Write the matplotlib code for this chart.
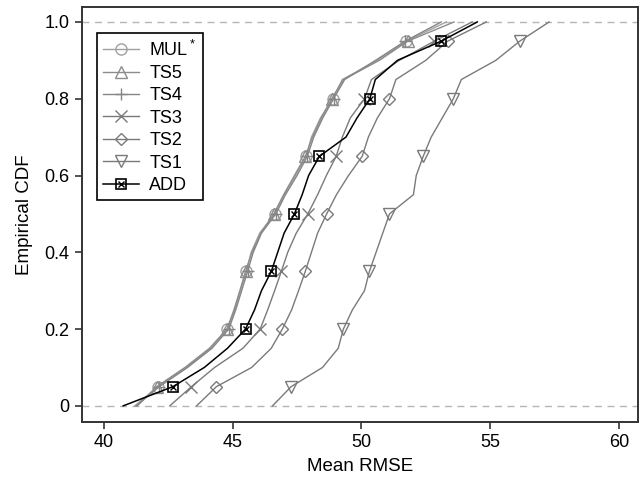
import matplotlib
matplotlib.use('Agg')
import matplotlib.pyplot as plt

plt.rcParams['font.family'] = ['Liberation Sans', 'DejaVu Sans']
plt.rcParams['mathtext.fontset'] = 'custom'
plt.rcParams['mathtext.rm'] = 'Liberation Sans'

# CDF levels where the x values were read
levels = [0.0, 0.05, 0.10, 0.15, 0.20, 0.25, 0.30, 0.35, 0.40, 0.45, 0.50,
          0.55, 0.60, 0.65, 0.70, 0.75, 0.80, 0.85, 0.90, 0.95, 1.0]
marker_idx = [1, 4, 7, 10, 13, 16, 19]

# Mean RMSE at each level
mul = [41.2, 42.1, 43.2, 44.15, 44.8, 45.08, 45.3, 45.53, 45.72, 46.05, 46.63,
       47.0, 47.44, 47.86, 48.06, 48.41, 48.88, 49.26, 50.62, 51.74, 53.3]
ts5 = [41.3, 42.05, 43.15, 44.1, 44.78, 45.05, 45.28, 45.5, 45.75, 46.1, 46.6,
       46.98, 47.4, 47.82, 48.1, 48.45, 48.85, 49.3, 50.7, 51.8, 53.6]
ts4 = [41.25, 42.15, 43.25, 44.2, 44.85, 45.12, 45.35, 45.58, 45.8, 46.12, 46.68,
       47.05, 47.5, 47.9, 48.15, 48.5, 48.92, 49.35, 50.55, 51.7, 53.1]
ts3 = [42.56, 43.4, 44.3, 45.4, 46.07, 46.36, 46.63, 46.89, 47.14, 47.47, 47.92,
       48.3, 48.64, 49.02, 49.26, 49.57, 50.12, 50.39, 51.47, 52.83, 54.3]
ts2 = [43.6, 44.37, 45.74, 46.5, 46.93, 47.29, 47.56, 47.82, 48.06, 48.3, 48.65,
       49.03, 49.5, 50.03, 50.27, 50.62, 51.09, 51.34, 52.5, 53.35, 54.85]
ts1 = [46.55, 47.27, 48.49, 49.1, 49.3, 49.65, 50.12, 50.31, 50.57, 50.83, 51.09,
       52.02, 52.13, 52.4, 52.71, 53.14, 53.57, 53.88, 55.22, 56.15, 57.29]
add = [40.75, 42.68, 43.9, 44.8, 45.5, 45.85, 46.12, 46.5, 46.75, 47.0, 47.4,
       47.7, 47.95, 48.37, 49.4, 49.83, 50.33, 50.54, 51.4, 53.1, 54.5]

xticks = [40, 45, 50, 55, 60]
yticks = [0, 0.2, 0.4, 0.6, 0.8, 1.0]
ytick_labels = ['0', '0.2', '0.4', '0.6', '0.8', '1.0']

fig = plt.figure(figsize=(6.43, 4.78), dpi=100)
ax = fig.add_axes([0.1275, 0.1172, 0.8647, 0.8682])

ax.axhline(0, color='#b5b5b5', lw=1, ls=(0, (5, 4)), zorder=0)
ax.axhline(1, color='#b5b5b5', lw=1, ls=(0, (5, 4)), zorder=0)

gray_series = [
    (mul, 'MUL$^*$', 'o', '#a0a0a0'),
    (ts5, 'TS5', '^', '#8c8c8c'),
    (ts4, 'TS4', '+', '#858585'),
    (ts3, 'TS3', 'x', '#7a7a7a'),
    (ts2, 'TS2', 'D', '#7a7a7a'),
    (ts1, 'TS1', 'v', '#7a7a7a'),
]
handles = []
labels = []
for vals, lab, mk, col in gray_series:
    ms = 6 if mk == 'D' else 8
    if mk in ('+', 'x'):
        ms = 9
    h, = ax.plot(vals, levels, color=col, lw=1.0, marker=mk, ms=ms,
                 markevery=marker_idx, mfc='none', mec=col, mew=1.0)
    handles.append(h)
    labels.append(lab)

h_sq, = ax.plot(add, levels, color='black', lw=1.1, marker='s', ms=7,
                markevery=marker_idx, mfc='none', mec='black', mew=1.2, zorder=5)
h_x, = ax.plot(add, levels, ls='none', marker='x', ms=5, color='black',
               markevery=marker_idx, mew=1.0, zorder=5)
handles.append((h_sq, h_x))
labels.append('ADD')

ax.set_xlim(39.15, 60.74)
ax.set_ylim(-0.042, 1.039)
ax.set_xticks(xticks)
ax.set_yticks(yticks)
ax.set_yticklabels(ytick_labels)
ax.tick_params(direction='out', length=5, width=1.2, color='#333333',
               labelsize=13, pad=4)
for s in ax.spines.values():
    s.set_color('#333333')
    s.set_linewidth(1.4)

ax.set_xlabel('Mean RMSE', fontsize=13.5, labelpad=5)
ax.set_ylabel('Empirical CDF', fontsize=13.5, labelpad=8)

leg = ax.legend(handles, labels, loc='upper left', bbox_to_anchor=(0.027, 0.937),
                borderaxespad=0, fontsize=13, handlelength=2.0, handletextpad=0.55,
                labelspacing=0.3, borderpad=0.35, fancybox=False, framealpha=1)
leg.get_frame().set_edgecolor('black')
leg.get_frame().set_linewidth(1.2)

fig.savefig('out.png', dpi=100)
